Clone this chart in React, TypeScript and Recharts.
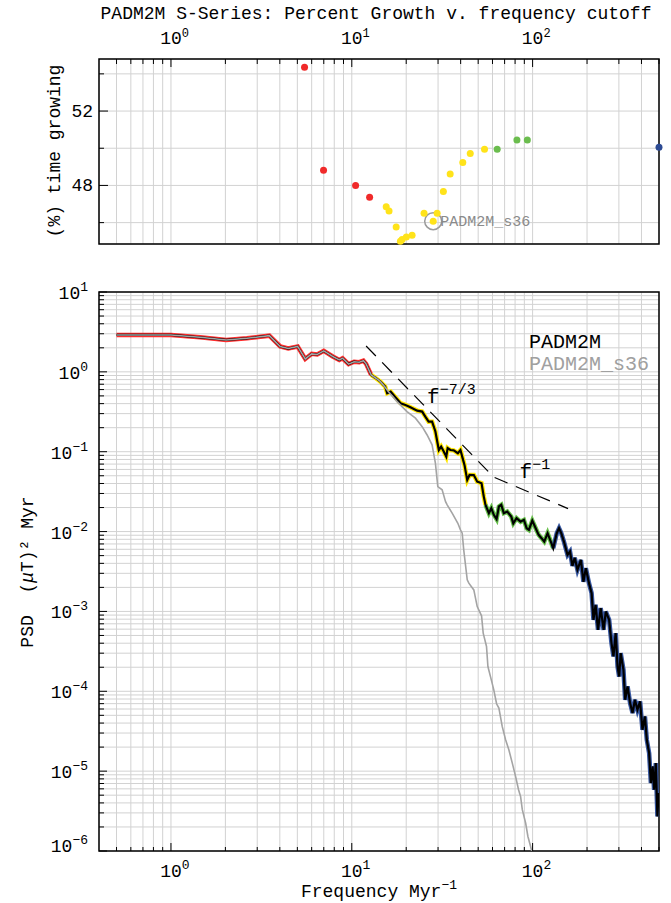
import React from 'react';
import {
  ScatterChart,
  Scatter,
  LineChart,
  Line,
  XAxis,
  YAxis,
  CartesianGrid,
  ReferenceArea,
  ReferenceDot,
} from 'recharts';

const FONT = '"Liberation Mono", "DejaVu Sans Mono", monospace';

// top panel: percent of time growing vs frequency cutoff (Myr^-1)
const redCutoff = [5.48, 6.98, 10.5, 12.55];
const redGrowth = [54.35, 48.82, 48.0, 47.37];
const yellowCutoff = [15.5, 16.07, 17.6, 18.57, 18.97, 20.04, 21.55, 25.1, 28.2, 29.65, 32.1, 35.0, 41.1, 45.2, 54.2];
const yellowGrowth = [46.85, 46.62, 45.76, 45.0, 45.09, 45.22, 45.32, 46.51, 46.08, 46.51, 47.68, 48.61, 49.24, 49.72, 49.94];
const greenCutoff = [63.7, 81.9, 93.5];
const greenGrowth = [49.94, 50.44, 50.44];
const blueCutoff = [500];
const blueGrowth = [50.05];
const s36Cutoff = 28.2;
const s36Growth = 46.08;

// bottom panel: PSD of PADM2M
const padmFreq = [
  0.5, 1.0, 1.45, 2.02, 2.63, 3.5, 4.02, 4.45, 5.02, 5.53,
  6.0, 6.44, 7.0, 7.85, 8.53, 8.89, 9.6, 10.3, 11.0, 11.6,
  12.0, 12.8, 13.6, 14.4, 15.3, 15.7, 16.4, 17.0, 18.6, 19.8,
  21.1, 23.0, 24.5, 25.5, 26.6, 27.8, 29.0, 30.3, 31.2, 32.3,
  33.3, 33.9, 35.1, 36.6, 38.6, 39.9, 40.8, 42.0, 43.5, 44.8,
  47.3, 49.4, 52.2, 53.7, 54.9, 57.3, 59.1, 61.0, 63.2, 65.1,
  67.1, 69.3, 72.4, 76.2, 78.2, 81.5, 85.8, 89.5, 92.7, 95.4,
  99.6, 104, 108, 112, 116, 121, 125, 130, 136, 140,
  144, 149, 156, 161, 166, 171, 177, 185, 191, 197,
  205, 212, 217, 223, 230, 238, 247, 254, 265, 273,
  280, 288, 295, 301, 307, 318, 325, 335, 346, 357,
  368, 380, 393, 405, 418, 428, 441, 451, 461, 470,
  480, 490, 497, 500,
];
const padmPsd = [
  2.9, 2.9, 2.71, 2.51, 2.63, 2.84, 2.08, 1.96, 2.08, 1.45,
  1.68, 1.65, 1.83, 1.56, 1.41, 1.48, 1.25, 1.34, 1.32, 1.38,
  1.26, 0.915, 0.832, 0.754, 0.653, 0.54, 0.565, 0.514, 0.405, 0.385,
  0.361, 0.327, 0.318, 0.275, 0.238, 0.238, 0.179, 0.105, 0.116, 0.1,
  0.0868, 0.111, 0.105, 0.104, 0.0958, 0.105, 0.0868, 0.0684, 0.0444, 0.0512,
  0.051, 0.0422, 0.0403, 0.0274, 0.0216, 0.017, 0.0196, 0.0162, 0.0143, 0.0206,
  0.0216, 0.017, 0.0178, 0.0154, 0.0127, 0.0147, 0.0133, 0.014, 0.011, 0.0105,
  0.0137, 0.011, 0.0091, 0.00827, 0.0075, 0.00955, 0.00787, 0.0062, 0.00955, 0.011,
  0.00955, 0.0075, 0.00511, 0.00562, 0.00372, 0.00469, 0.00332, 0.00442, 0.00235, 0.00348,
  0.00226, 0.00169, 0.000785, 0.00121, 0.000588, 0.0011, 0.000588, 0.000997, 0.000785, 0.000401,
  0.000273, 0.000535, 0.000204, 0.000153, 0.0003, 0.000186, 7.83e-5, 0.000115, 7.12e-5, 5.34e-5,
  7.83e-5, 5.87e-5, 7.46e-5, 3.3e-5, 4.84e-5, 2.47e-5, 1.68e-5, 7.1e-6, 1.15e-5, 5.85e-6,
  1.26e-5, 2.71e-6, 5.32e-6, 4.39e-6,
];

// PADM2M_s36 (follows PADM2M at low frequency)
const s36Freq = [
  0.5, 1.0, 1.45, 2.02, 2.63, 3.5, 4.02, 4.45, 5.02, 5.53,
  6.0, 6.44, 7.0, 7.85, 8.53, 8.89, 9.6, 10.3, 11.0, 11.6,
  12.0, 12.8, 13.6, 14.4, 15.3, 16.0, 17.8, 20.2, 22.5, 24.5,
  26.1, 27.8, 29.0, 29.9, 31.6, 33.0, 33.7, 35.9, 38.6, 39.9,
  40.8, 41.6, 43.5, 44.4, 47.3, 49.4, 52.2, 53.3, 55.6, 56.6,
  59.1, 61.0, 63.2, 65.1, 67.9, 70.9, 73.9, 77.2, 80.5, 83.6,
  85.8, 87.7, 91.5, 94.2, 97.5, 100,
];
const s36Psd = [
  2.9, 2.9, 2.71, 2.51, 2.63, 2.84, 2.08, 1.96, 2.08, 1.45,
  1.68, 1.65, 1.83, 1.56, 1.41, 1.48, 1.25, 1.34, 1.32, 1.38,
  1.26, 0.915, 0.832, 0.754, 0.64, 0.56, 0.424, 0.318, 0.263, 0.206,
  0.162, 0.122, 0.0718, 0.0366, 0.0333, 0.0237, 0.0216, 0.017, 0.0127, 0.0105,
  0.00955, 0.0059, 0.00249, 0.00226, 0.00186, 0.00115, 0.000881, 0.000535, 0.000364, 0.000204,
  0.000139, 0.000104, 6.98e-5, 6.16e-5, 3.63e-5, 2.47e-5, 1.85e-5, 1.26e-5, 8.59e-6, 5.85e-6,
  4.82e-6, 3.29e-6, 2.24e-6, 1.52e-6, 1.14e-6, 9.0e-7,
];

// power-law guide lines f^-7/3 then f^-1
const guideFreq = [12.0, 61.0, 157];
const guidePsd = [2.11, 0.048, 0.0194];

// colour bands along the PADM2M spectrum
const bandColors = ['#ff2b2b', '#ffe600', '#66c04a', '#35559f'];
const bandEdges = [0, 12.8, 54.9, 130, 1000];

const xDecades = [0.1, 1, 10, 100];
const psdDecades = [1e-6, 1e-5, 1e-4, 1e-3, 1e-2, 1e-1, 1, 10];
const growthTicks = [46, 48, 50, 52, 54];
const growthLabelled = [48, 52];

const logTicks = (decades: number[], lo: number, hi: number) =>
  decades
    .flatMap((d) => [1, 2, 3, 4, 5, 6, 7, 8, 9].map((m) => +(m * d).toPrecision(3)))
    .filter((v) => v >= lo && v <= hi);

const freqTicks = logTicks(xDecades, 0.45, 500);
const psdTicks = logTicks(psdDecades, 1e-6, 10);

const isDecade = (v: number) => {
  const l = Math.log10(v);
  return Math.abs(l - Math.round(l)) < 1e-6;
};
const expo = (v: number) => {
  const e = Math.round(Math.log10(v));
  return e < 0 ? `\u2212${-e}` : `${e}`;
};

const growthPts = (fs: number[], vs: number[]) => fs.map((f, i) => ({ f, v: vs[i] }));
const padmPts = padmFreq.map((f, i) => ({ f, psd: padmPsd[i] }));
const s36Pts = s36Freq.map((f, i) => ({ f, psd: s36Psd[i] }));
const guidePts = guideFreq.map((f, i) => ({ f, psd: guidePsd[i] }));
const bands = bandColors.map((c, i) =>
  padmPts.filter((p) => p.f >= bandEdges[i] && p.f <= bandEdges[i + 1])
);

const GRID = '#d2d2d2';

const TopXTick = (props: any) => {
  const { x, y, payload } = props;
  const v = Number(payload.value);
  const major = isDecade(v);
  return (
    <g>
      <line x1={x} x2={x} y1={y} y2={y + (major ? 8 : 5)} stroke="#000" />
      {major && (
        <text x={x - 10.8} y={y - 15} fontFamily={FONT} fontSize={18} fill="#000">
          10<tspan dy={-7} fontSize={12}>{expo(v)}</tspan>
        </text>
      )}
    </g>
  );
};

const GrowthYTick = (props: any) => {
  const { x, y, payload } = props;
  const v = Number(payload.value);
  const major = growthLabelled.includes(v);
  return (
    <g>
      <line x1={x} x2={x + (major ? 9 : 5)} y1={y} y2={y} stroke="#000" />
      {major && (
        <text x={x - 6} y={y + 6} textAnchor="end" fontFamily={FONT} fontSize={18} fill="#000">
          {v}
        </text>
      )}
    </g>
  );
};

const BottomXTick = (props: any) => {
  const { x, y, payload } = props;
  const v = Number(payload.value);
  const major = isDecade(v);
  return (
    <g>
      <line x1={x} x2={x} y1={y} y2={y - (major ? 8 : 4)} stroke="#000" />
      {major && (
        <text x={x - 10.8} y={y + 26} fontFamily={FONT} fontSize={18} fill="#000">
          10<tspan dy={-8} fontSize={13}>{expo(v)}</tspan>
        </text>
      )}
    </g>
  );
};

const PsdYTick = (props: any) => {
  const { x, y, payload } = props;
  const v = Number(payload.value);
  const major = isDecade(v);
  return (
    <g>
      <line x1={x} x2={x + (major ? 8 : 5)} y1={y} y2={y} stroke="#000" />
      {major && (
        <text
          x={x - 11}
          y={y + (v <= 1e-6 ? 1 : 7)}
          textAnchor="end"
          fontFamily={FONT}
          fontSize={18}
          fill="#000"
        >
          10<tspan dy={-8} fontSize={13}>{expo(v)}</tspan>
        </text>
      )}
    </g>
  );
};

const dot = (color: string) => (p: any) => <circle cx={p.cx} cy={p.cy} r={3.5} fill={color} />;

const powerLabel = (exp: string) => (p: any) => (
  <text x={p.cx} y={p.cy} fontFamily={FONT} fontSize={21} fill="#000">
    f<tspan dy={-9} fontSize={15}>{exp}</tspan>
  </text>
);

export default function App() {
  return (
    <div style={{ position: 'absolute', left: 0, top: 0, width: 671, height: 903, background: '#fff' }}>
      <div style={{ position: 'absolute', left: 0, top: 0 }}>
        <ScatterChart width={671} height={260} margin={{ top: 58, right: 12, bottom: 16, left: 9 }}>
          <CartesianGrid stroke={GRID} />
          <XAxis
            dataKey="f"
            type="number"
            scale="log"
            domain={[0.4, 500]}
            orientation="top"
            height={1}
            ticks={freqTicks}
            interval={0}
            tickSize={0}
            tickMargin={0}
            tickLine={false}
            axisLine={false}
            tick={<TopXTick />}
          />
          <YAxis
            dataKey="v"
            type="number"
            domain={[44.85, 54.8]}
            width={90}
            ticks={growthTicks}
            interval={0}
            tickSize={0}
            tickMargin={0}
            tickLine={false}
            axisLine={false}
            tick={<GrowthYTick />}
          />
          <ReferenceArea x1={0.4} x2={500} y1={44.85} y2={54.8} fill="none" stroke="#000" strokeWidth={1.5} />
          <ReferenceDot
            x={s36Cutoff}
            y={s36Growth}
            r={8.5}
            shape={(p: any) => (
              <g>
                <circle cx={p.cx} cy={p.cy} r={8.5} fill="none" stroke="#9a9a9a" strokeWidth={1.5} />
                <text x={p.cx + 7} y={p.cy + 5} fontFamily={FONT} fontSize={15} fill="#8a8a8a">
                  PADM2M_s36
                </text>
              </g>
            )}
          />
          <Scatter data={growthPts(redCutoff, redGrowth)} shape={dot('#f02a2a')} isAnimationActive={false} />
          <Scatter data={growthPts(yellowCutoff, yellowGrowth)} shape={dot('#ffe31a')} isAnimationActive={false} />
          <Scatter data={growthPts(greenCutoff, greenGrowth)} shape={dot('#6bbd4e')} isAnimationActive={false} />
          <Scatter data={growthPts(blueCutoff, blueGrowth)} shape={dot('#2d4b94')} isAnimationActive={false} />
        </ScatterChart>
      </div>

      <div style={{ position: 'absolute', left: 0, top: 260 }}>
        <LineChart width={671} height={643} margin={{ top: 32, right: 12, bottom: 51, left: 9 }}>
          <CartesianGrid stroke={GRID} />
          <XAxis
            dataKey="f"
            type="number"
            scale="log"
            domain={[0.4, 500]}
            allowDataOverflow
            height={1}
            ticks={freqTicks}
            interval={0}
            tickSize={0}
            tickMargin={0}
            tickLine={false}
            axisLine={false}
            tick={<BottomXTick />}
          />
          <YAxis
            dataKey="psd"
            type="number"
            scale="log"
            domain={[1e-6, 10]}
            allowDataOverflow
            width={90}
            ticks={psdTicks}
            interval={0}
            tickSize={0}
            tickMargin={0}
            tickLine={false}
            axisLine={false}
            tick={<PsdYTick />}
          />
          {bands.map((pts, i) => (
            <Line
              key={bandColors[i]}
              data={pts}
              dataKey="psd"
              stroke={bandColors[i]}
              strokeWidth={4.5}
              dot={false}
              isAnimationActive={false}
            />
          ))}
          <Line data={padmPts} dataKey="psd" stroke="#000" strokeWidth={2.2} dot={false} isAnimationActive={false} />
          <Line data={s36Pts} dataKey="psd" stroke="#a4a4a4" strokeWidth={1.6} dot={false} isAnimationActive={false} />
          <Line
            data={guidePts}
            dataKey="psd"
            stroke="#000"
            strokeWidth={1.2}
            strokeDasharray="14 9"
            dot={false}
            isAnimationActive={false}
          />
          <ReferenceDot x={26.1} y={0.408} r={0} shape={powerLabel('\u22127/3')} />
          <ReferenceDot x={84.7} y={0.0466} r={0} shape={powerLabel('\u22121')} />
          <ReferenceArea x1={0.4} x2={500} y1={1e-6} y2={10} fill="none" stroke="#000" strokeWidth={1.5} />
        </LineChart>
      </div>

      <svg
        width={671}
        height={903}
        style={{ position: 'absolute', left: 0, top: 0, pointerEvents: 'none' }}
        fontFamily={FONT}
      >
        <text x={376} y={19} textAnchor="middle" fontSize={18} fill="#000">
          PADM2M S-Series: Percent Growth v. frequency cutoff
        </text>
        <text
          transform="translate(55,151) rotate(-90)"
          textAnchor="middle"
          dominantBaseline="central"
          fontSize={18}
          fill="#000"
        >
          (%) time growing
        </text>
        <text
          transform="translate(28,572) rotate(-90)"
          textAnchor="middle"
          dominantBaseline="central"
          fontSize={18}
          fill="#000"
          style={{ whiteSpace: 'pre' }}
        >
          {'PSD  ('}
          <tspan fontStyle="italic">μ</tspan>
          {'T)\u00b2 Myr'}
        </text>
        <text x={379} y={897} textAnchor="middle" fontSize={18} fill="#000">
          Frequency Myr<tspan dy={-8} fontSize={13}>{'\u22121'}</tspan>
        </text>
        <text x={529} y={348} fontSize={20} fill="#000">
          PADM2M
        </text>
        <text x={529} y={370} fontSize={20} fill="#a0a0a0">
          PADM2M_s36
        </text>
      </svg>
    </div>
  );
}
